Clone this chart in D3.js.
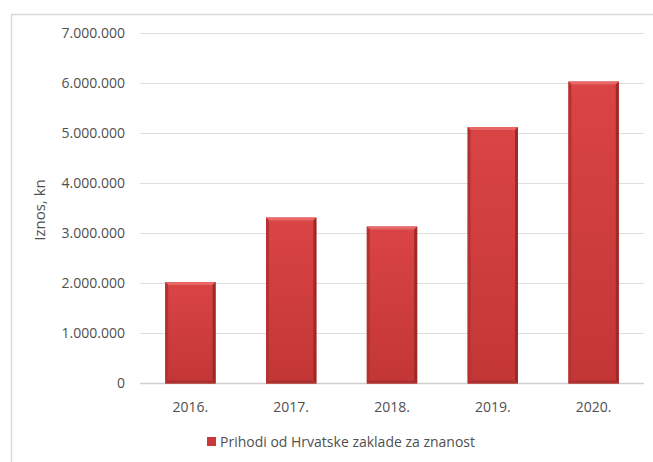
<!DOCTYPE html>
<html><head><meta charset="utf-8">
<script src="https://cdn.jsdelivr.net/npm/d3@7"></script>
<style>body{margin:0;background:#fff;}svg{display:block;}</style>
</head><body>
<svg id="c" width="653" height="462"></svg>
<script>
const categories = ["2016.", "2017.", "2018.", "2019.", "2020."];
const values = [2030000, 3320000, 3140000, 5130000, 6040000];
const yTicks = [0, 1000000, 2000000, 3000000, 4000000, 5000000, 6000000, 7000000];
const seriesName = "Prihodi od Hrvatske zaklade za znanost";
const yTitle = "Iznos, kn";

const svg = d3.select("#c");
const font = "'Open Sans', sans-serif";
const textCol = "#505050";

svg.append("path").attr("d", "M11.5,462 L11.5,14.5 L653,14.5")
  .attr("fill", "none").attr("stroke", "#d9d9d9").attr("stroke-width", 1.5);

const x = d3.scaleBand().domain(categories).range([140, 644]).paddingInner(0.5).paddingOuter(0.25);
const y = d3.scaleLinear().domain([0, 7000000]).range([383.5, 33.5]);

const defs = svg.append("defs");
const g1 = defs.append("linearGradient").attr("id", "bar").attr("x1", 0).attr("y1", 0).attr("x2", 0).attr("y2", 1);
g1.append("stop").attr("offset", "0%").attr("stop-color", "#da4444");
g1.append("stop").attr("offset", "100%").attr("stop-color", "#c33636");

const fmt = d => d === 0 ? "0" : d3.format(",")(d).replace(/,/g, ".");

const ga = svg.append("g");
ga.selectAll("line").data(yTicks).join("line")
  .attr("x1", 140).attr("x2", 644)
  .attr("y1", d => y(d)).attr("y2", d => y(d))
  .attr("stroke", d => d === 0 ? "#d0d0d0" : "#dedede").attr("stroke-width", d => d === 0 ? 1.5 : 1);

ga.selectAll("text").data(yTicks).join("text")
  .attr("x", 125).attr("y", d => y(d)).attr("dy", "0.35em")
  .attr("text-anchor", "end").attr("font-family", font).attr("font-size", 14)
  .attr("fill", textCol).text(fmt);

const bev = 3;
const bars = svg.append("g").selectAll("g").data(categories.map((c, i) => ({c, v: values[i]}))).join("g");
bars.append("rect")
  .attr("x", d => x(d.c)).attr("y", d => y(d.v))
  .attr("width", x.bandwidth()).attr("height", d => y(0) - y(d.v))
  .attr("fill", "url(#bar)");
bars.append("path").attr("fill", "#e76767").attr("d", d => {
  const x0 = x(d.c), x1 = x0 + x.bandwidth(), t = y(d.v);
  return `M${x0},${t}L${x1},${t}L${x1-bev},${t+bev}L${x0+bev},${t+bev}Z`;
});
bars.append("path").attr("fill", "#b53232").attr("d", d => {
  const x0 = x(d.c), t = y(d.v), b = y(0);
  return `M${x0},${t}L${x0+bev},${t+bev}L${x0+bev},${b-bev}L${x0},${b}Z`;
});
bars.append("path").attr("fill", "#9e2929").attr("d", d => {
  const x1 = x(d.c) + x.bandwidth(), t = y(d.v), b = y(0);
  return `M${x1},${t}L${x1-bev},${t+bev}L${x1-bev},${b-bev}L${x1},${b}Z`;
});
bars.append("path").attr("fill", "#ad3030").attr("d", d => {
  const x0 = x(d.c), x1 = x0 + x.bandwidth(), b = y(0);
  return `M${x0},${b}L${x0+bev},${b-bev}L${x1-bev},${b-bev}L${x1},${b}Z`;
});

svg.append("g").selectAll("text").data(categories).join("text")
  .attr("x", d => x(d) + x.bandwidth() / 2).attr("y", 407).attr("dy", "0.35em")
  .attr("text-anchor", "middle").attr("font-family", font).attr("font-size", 14)
  .attr("fill", textCol).text(d => d);

svg.append("text").attr("transform", "translate(40,210) rotate(-90)")
  .attr("text-anchor", "middle").attr("dy", "0.35em")
  .attr("font-family", font).attr("font-size", 15).attr("fill", textCol).text(yTitle);

const lg = svg.append("g");
lg.append("rect").attr("x", 207).attr("y", 437).attr("width", 9).attr("height", 9).attr("fill", "#c83a3a");
lg.append("text").attr("x", 220).attr("y", 442).attr("dy", "0.35em")
  .attr("font-family", font).attr("font-size", 14).attr("fill", textCol).text(seriesName);
</script>
</body></html>
